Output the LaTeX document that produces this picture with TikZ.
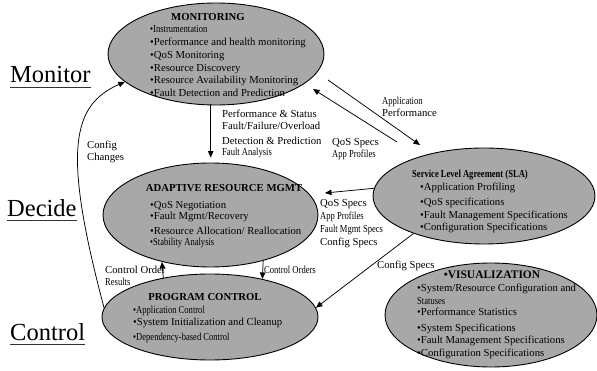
\documentclass[tikz,border=0pt]{standalone}
\usepackage{fontspec}
\setmainfont{Liberation Serif}
\newfontfamily\cnd[FakeStretch=0.8]{Liberation Serif}
\usetikzlibrary{shapes.geometric,arrows.meta}
\definecolor{ellfill}{RGB}{168,168,168}
\tikzset{
  ell/.style={ellipse, draw=black, line width=0.9pt, fill=ellfill, inner sep=0pt},
  tx/.style={anchor=base west, inner sep=0pt, font=\fontsize{10.7}{12.7}\selectfont},
  ttl/.style={anchor=base, inner sep=0pt, font=\fontsize{10.7}{12.7}\selectfont\bfseries},
  big/.style={anchor=base west, inner sep=0pt, font=\fontsize{24.5}{28}\selectfont},
  arr/.style={-{Triangle[length=6.5pt,width=5.5pt]}, line width=0.75pt},
  uline/.style={line width=0.9pt, draw=black!80},
}
\begin{document}
\begin{tikzpicture}[x=1pt,y=-1pt]
\useasboundingbox (0,0) rectangle (597,371);

% ellipses
\node[ell, minimum width=216pt, minimum height=102pt] (mon) at (216,54) {};
\node[ell, minimum width=215pt, minimum height=104pt] (arm) at (210.5,215) {};
\node[ell, minimum width=216pt, minimum height=86pt] (pc) at (210,317) {};
\node[ell, minimum width=222pt, minimum height=96pt] (sla) at (484,196) {};
\node[ell, minimum width=212pt, minimum height=104pt] (vis) at (491,315) {};

% MONITORING
\node[ttl] (mont) at (208,20.5) {MONITORING};
\node[tx] (mon1) at (150,33) {\cnd •Instrumentation};
\node[tx] (mon2) at (150,45.7) {•Performance and health monitoring};
\node[tx] (mon3) at (150,58.4) {•QoS Monitoring};
\node[tx] (mon4) at (150,71.1) {•Resource Discovery};
\node[tx] (mon5) at (150,83.8) {•Resource Availability Monitoring};
\node[tx] (mon6) at (150,96.5) {•Fault Detection and Prediction};

% ADAPTIVE
\node[ttl] (armt) at (224,192) {ADAPTIVE RESOURCE MGMT};
\node[tx] (arm1) at (150,209) {•QoS Negotiation};
\node[tx] (arm2) at (150,220) {•Fault Mgmt/Recovery};
\node[tx] (arm3) at (150,235) {•Resource Allocation/ Reallocation};
\node[tx] (arm4) at (150,246) {\cnd •Stability Analysis};

% PROGRAM CONTROL
\node[ttl] (pct) at (205,301) {PROGRAM CONTROL};
\node[tx] (pc1) at (133,313) {\cnd •Application Control};
\node[tx] (pc2) at (133,326) {•System Initialization and Cleanup};
\node[tx] (pc3) at (133,340) {\cnd •Dependency-based Control};

% SLA
\node[ttl] (slat) at (470,178) {\cnd\bfseries Service Level Agreement (SLA)};
\node[tx] (sla1) at (420,191) {•Application Profiling};
\node[tx] (sla2) at (420,206) {•QoS specifications};
\node[tx] (sla3) at (420,219) {•Fault Management Specifications};
\node[tx] (sla4) at (420,231) {•Configuration Specifications};

% VISUALIZATION
\node[ttl, font=\fontsize{11.5}{13}\selectfont\bfseries] (vist) at (492,279) {•VISUALIZATION};
\node[tx] (vis1) at (417,292) {•System/Resource Configuration and};
\node[tx] (vis2) at (417,305) {\cnd Statuses};
\node[tx] (vis3) at (417,316) {•Performance Statistics};
\node[tx] (vis4) at (417,331) {•System Specifications};
\node[tx] (vis5) at (417,343) {•Fault Management Specifications};
\node[tx] (vis6) at (417,356) {•Configuration Specifications};

% side labels
\node[big] (lmon) at (10,83) {Monitor};
\node[big] (ldec) at (7,216.5) {Decide};
\node[big] (lctl) at (10,340) {Control};
\draw[uline] ([yshift=-4.5pt]lmon.base west) -- ([yshift=-4.5pt]lmon.base east);
\draw[uline] ([yshift=-3.5pt]ldec.base west) -- ([yshift=-3.5pt]ldec.base east);
\draw[uline] ([yshift=-4pt]lctl.base west) -- ([yshift=-4pt]lctl.base east);

% connector labels
\node[tx] (p1) at (222,118) {Performance \& Status};
\node[tx] (p2) at (222,130) {Fault/Failure/Overload};
\node[tx] (p3) at (222,145) {Detection \& Prediction};
\node[tx] (p4) at (222,156) {\cnd Fault Analysis};
\node[tx] (ap1) at (382,105) {\cnd Application};
\node[tx] (ap2) at (382,117) {Performance};
\node[tx] (q1) at (332,146) {QoS Specs};
\node[tx] (q2) at (332,158) {\cnd App Profiles};
\node[tx] (s1) at (320,207) {QoS Specs};
\node[tx] (s2) at (320,220) {\cnd App Profiles};
\node[tx] (s3) at (320,233) {\cnd Fault Mgmt Specs};
\node[tx] (s4) at (320,246) {Config Specs};
\node[tx] (cs) at (377,269) {Config Specs};
\node[tx] (co) at (264,274) {\cnd Control Orders};
\node[tx] (cr1) at (105,274) {Control Order};
\node[tx] (cr2) at (105,286) {\cnd Results};
\node[tx] (cc1) at (87,149) {Config};
\node[tx] (cc2) at (87,161) {Changes};

% connectors
\draw[arr, shorten >=5pt] ([xshift=-5.3pt]mon.south) -- ([xshift=-5.3pt]mon.south |- arm.north);
\coordinate (a1) at (328,80);
\coordinate (a2) at (420,145);
\draw[arr] (a1) -- (a2);
\coordinate (b1) at (397,142);
\coordinate (b2) at (313,89);
\draw[arr] (b1) -- (b2);
\coordinate (c2) at (325,193);
\draw[arr] (sla.176) -- (c2);
\draw[arr] (sla.208) -- (pc.5);
\draw[arr] (arm.-41.5) -- (pc.36);
\draw[arr] (pc.140.5) -- (arm.224.5);
\draw[arr] (pc.175) .. controls (62,150) and (72,105) .. (mon.197);
\end{tikzpicture}
\end{document}
